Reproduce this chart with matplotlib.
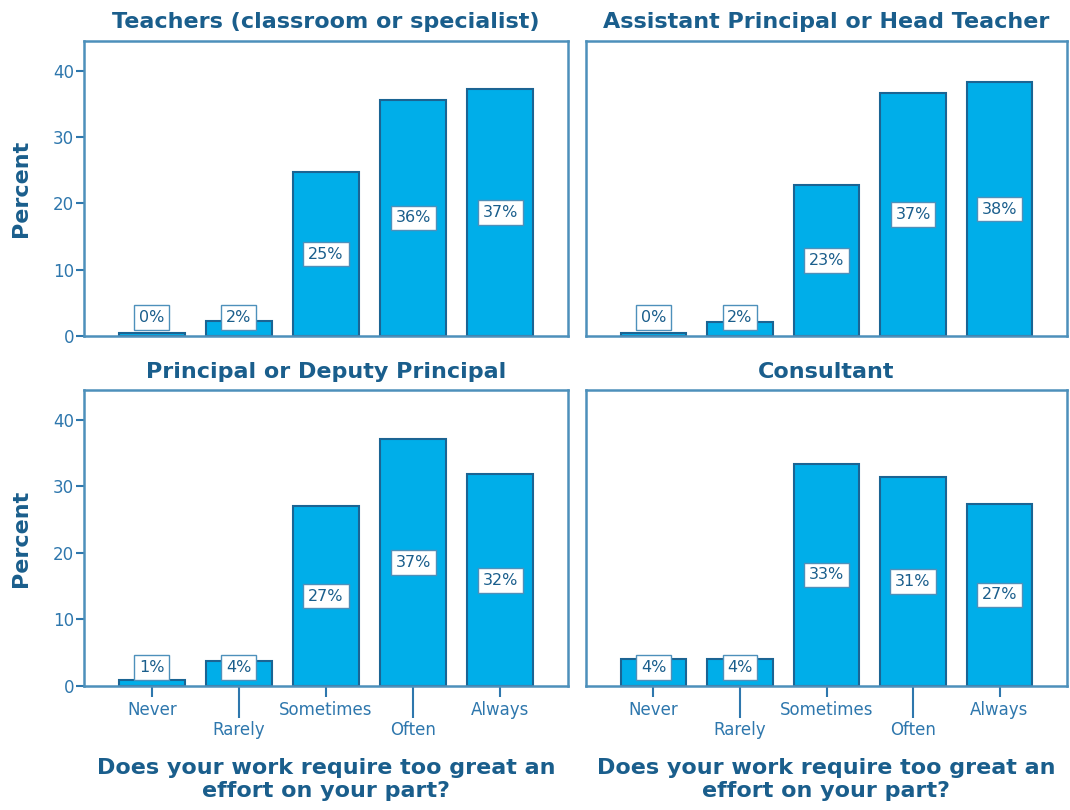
import matplotlib
matplotlib.use("Agg")
import matplotlib.pyplot as plt

categories = ["Never", "Rarely", "Sometimes", "Often", "Always"]
panel_titles = ["Teachers (classroom or specialist)", "Assistant Principal or Head Teacher",
                "Principal or Deputy Principal", "Consultant"]
teachers = [0.4, 2.3, 24.7, 35.6, 37.3]
assistant = [0.4, 2.1, 22.8, 36.6, 38.3]
principal = [0.9, 3.8, 27.0, 37.1, 31.8]
consultant = [4.1, 4.1, 33.4, 31.4, 27.4]
yticks = [0, 10, 20, 30, 40]

bar_col = "#00aee9"
edge_col = "#1b6493"
text_col = "#1a5e8c"
tick_col = "#2e77ad"
frame_col = "#4d90bb"

W, H = 1070, 810
fig = plt.figure(figsize=(W / 100, H / 100), dpi=100)

# axes rectangles in pixels: left, top, right, bottom
boxes = [(84, 41, 568, 336), (586, 41, 1067, 336),
         (84, 390, 568, 686), (586, 390, 1067, 686)]
series = [teachers, assistant, principal, consultant]

for i, (vals, title, (l, t, r, b)) in enumerate(zip(series, panel_titles, boxes)):
    ax = fig.add_axes([l / W, 1 - b / H, (r - l) / W, (b - t) / H])
    x = list(range(len(categories)))
    ax.bar(x, vals, width=0.76, color=bar_col, edgecolor=edge_col, linewidth=1.5, zorder=2)
    for xi, v in zip(x, vals):
        ax.text(xi, max(v / 2, 2.8), f"{v:.0f}%", ha="center", va="center", fontsize=11.5,
                color=text_col, zorder=3,
                bbox=dict(boxstyle="square,pad=0.3", fc="white", ec=frame_col, lw=1))
    ax.set_xlim(-0.78, 4.78)
    ax.set_ylim(0, 44.5)
    for s in ax.spines.values():
        s.set_color(frame_col)
        s.set_linewidth(1.8)
    ax.set_title(title, fontsize=16, fontweight="bold", color=text_col, pad=9)

    if i % 2 == 0:
        ax.set_yticks(yticks)
        ax.tick_params(axis="y", colors=tick_col, labelsize=12, length=6, width=1.5, pad=1)
        ax.set_ylabel("Percent", fontsize=16, fontweight="bold", color=text_col, labelpad=16)
    else:
        ax.set_yticks([])

    if i >= 2:
        ax.set_xticks([0, 2, 4])
        ax.set_xticklabels([categories[0], categories[2], categories[4]])
        ax.set_xticks([1, 3], minor=True)
        ax.set_xticklabels([categories[1], categories[3]], minor=True)
        ax.tick_params(axis="x", which="major", colors=tick_col, labelsize=12,
                       length=8, width=1.5, pad=3)
        ax.tick_params(axis="x", which="minor", colors=tick_col, labelsize=12,
                       length=23, width=1.5, pad=2)
        ax.set_xlabel("Does your work require too great an\neffort on your part?",
                      fontsize=16, fontweight="bold", color=text_col, labelpad=14,
                      linespacing=1.15)
    else:
        ax.set_xticks([])

plt.savefig("out.png", dpi=100)
